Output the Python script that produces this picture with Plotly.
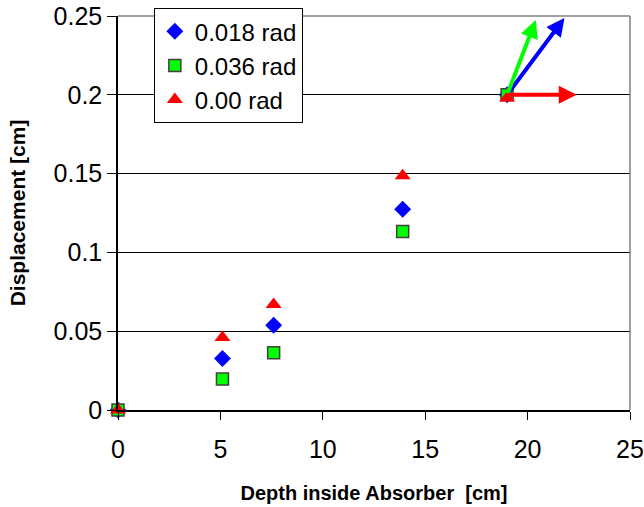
import plotly.graph_objects as go

depth = [0, 5.1, 7.6, 13.9, 19]
disp_018 = [0, 0.0327, 0.0538, 0.1274, 0.2]
disp_036 = [0, 0.0196, 0.0363, 0.1133, 0.2]
disp_000 = [0, 0.046, 0.067, 0.1487, 0.198]

series_names = ["0.018 rad", "0.036 rad", "0.00 rad"]

# direction arrows drawn from the last point
arrow_tail = (19, 0.2)
arrow_tips_x = [21.8, 20.4, 22.4]
arrow_tips_y = [0.2487, 0.2475, 0.2]
arrow_colors = ["#0000FF", "#00FF00", "#FF0000"]

x_ticks = [0, 5, 10, 15, 20, 25]
y_ticks = [0, 0.05, 0.1, 0.15, 0.2, 0.25]
y_tick_text = ["0", "0.05", "0.1", "0.15", "0.2", "0.25"]

FONT = "Liberation Sans, Arial, sans-serif"

fig = go.Figure()
fig.add_trace(go.Scatter(x=depth, y=disp_018, mode="markers", name=series_names[0],
                         cliponaxis=False,
                         marker=dict(symbol="diamond", size=13, color="#0000FF",
                                     line=dict(width=0))))
fig.add_trace(go.Scatter(x=depth, y=disp_036, mode="markers", name=series_names[1],
                         cliponaxis=False,
                         marker=dict(symbol="square", size=12, color="#00FF00",
                                     line=dict(width=1.5, color="#404040"))))
fig.add_trace(go.Scatter(x=depth, y=disp_000, mode="markers", name=series_names[2],
                         cliponaxis=False,
                         marker=dict(symbol="triangle-up", size=14, color="#FF0000",
                                     line=dict(width=0))))

# plot border (top/right gray)
fig.add_shape(type="line", xref="paper", yref="paper", x0=0, x1=1, y0=1, y1=1,
              line=dict(color="#808080", width=1.5), layer="above")
fig.add_shape(type="line", xref="paper", yref="paper", x0=1, x1=1, y0=0, y1=1,
              line=dict(color="#808080", width=1.5), layer="above")

for tx, ty, col in zip(arrow_tips_x, arrow_tips_y, arrow_colors):
    fig.add_annotation(x=tx, y=ty, xref="x", yref="y",
                       ax=arrow_tail[0], ay=arrow_tail[1], axref="x", ayref="y",
                       text="", showarrow=True, arrowhead=2, arrowsize=0.9,
                       arrowwidth=4, arrowcolor=col, standoff=0, startstandoff=0)

fig.update_layout(
    width=644, height=507,
    margin=dict(l=118, r=14, t=16, b=97, autoexpand=False),
    paper_bgcolor="white", plot_bgcolor="white",
    font=dict(family=FONT, color="black"),
    showlegend=True,
    legend=dict(x=0.07, y=1.02, xanchor="left", yanchor="top",
                bgcolor="white", bordercolor="black", borderwidth=1,
                font=dict(size=24, family=FONT), itemsizing="trace"),
    xaxis=dict(range=[0, 25], tickvals=x_ticks, ticks="outside", ticklen=8,
               tickcolor="black", showline=True, linecolor="black", linewidth=1.5,
               showgrid=False, zeroline=False, automargin=False,
               ticklabelstandoff=8, ticklabeloverflow="allow",
               tickfont=dict(size=25, family=FONT),
               title=dict(text="Depth inside Absorber \u00a0[cm]",
                          font=dict(size=20, family=FONT, weight="bold"), standoff=24)),
    yaxis=dict(range=[0, 0.25], tickvals=y_ticks, ticktext=y_tick_text,
               ticks="outside", ticklen=9, tickcolor="black",
               showline=True, linecolor="black", linewidth=1.5, automargin=False,
               ticklabeloverflow="allow",
               showgrid=True, gridcolor="black", gridwidth=1, zeroline=False,
               tickfont=dict(size=25, family=FONT),
               title=dict(text="Displacement [cm]",
                          font=dict(size=21, family=FONT, weight="bold"), standoff=22)),
)

# remove the browser's default 8px body margin so the figure fills the window
fig.write_html("out.html",
               config={"displayModeBar": False},
               post_script="document.body.style.margin='0';document.body.style.overflow='hidden';")
